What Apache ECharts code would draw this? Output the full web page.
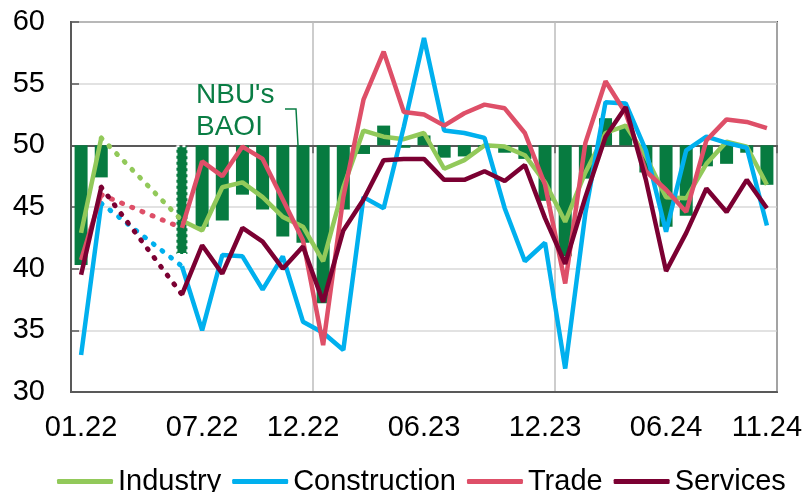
<!DOCTYPE html>
<html>
<head>
<meta charset="utf-8">
<script src="https://cdn.jsdelivr.net/npm/echarts@6/dist/echarts.min.js"></script>
<style>
  html, body { margin: 0; padding: 0; background: #fff; }
  #chart { width: 807px; height: 492px; }
</style>
</head>
<body>
<div id="chart"></div>
<script>
// months 01.22 .. 11.24 (no survey 03.22-05.22)
const months = [
  '01.22', '02.22', '03.22', '04.22', '05.22', '06.22', '07.22', '08.22', '09.22', '10.22', '11.22', '12.22',
  '01.23', '02.23', '03.23', '04.23', '05.23', '06.23', '07.23', '08.23', '09.23', '10.23', '11.23', '12.23',
  '01.24', '02.24', '03.24', '04.24', '05.24', '06.24', '07.24', '08.24', '09.24', '10.24', '11.24'
];
const shownLabels = ['01.22', '07.22', '12.22', '06.23', '12.23', '06.24', '11.24'];

// NBU's BAOI (bars, drawn from the 50 line)
const baoi = [
  40.3, 47.4, null, null, null, 41.1, 43.4, 43.9, 46.0, 44.8, 42.6, 42.1,
  37.2, 44.8, 49.3, 51.6, 49.8, 50.8, 49.0, 49.1, 49.8, 49.4, 48.9, 45.5,
  41.0, 47.3, 52.2, 51.4, 47.8, 43.4, 44.3, 48.3, 48.5, 49.4, 46.8
];
const industry = [
  42.9, 50.6, null, null, null, 43.9, 43.1, 46.6, 47.0, 45.8, 44.2, 43.4,
  40.6, 46.6, 51.2, 50.7, 50.5, 51.0, 48.1, 48.8, 50.0, 49.9, 49.2, 47.0,
  43.8, 47.8, 51.0, 51.6, 49.1, 45.8, 45.7, 48.5, 50.3, 49.9, 46.8
];
const construction = [
  33.0, 45.3, null, null, null, 40.2, 35.0, 41.1, 41.0, 38.3, 41.0, 35.7,
  34.8, 33.4, 45.8, 44.9, 51.5, 58.7, 51.2, 51.0, 50.6, 44.9, 40.6, 42.1,
  31.9, 44.5, 53.5, 53.4, 49.6, 43.0, 49.6, 50.7, 50.2, 49.8, 43.5
];
const trade = [
  40.7, 46.0, null, null, null, 43.3, 48.7, 47.5, 49.9, 48.9, 45.6, 42.3,
  33.8, 45.8, 53.7, 57.6, 52.7, 52.5, 51.6, 52.6, 53.3, 53.0, 51.0, 46.8,
  38.8, 50.2, 55.2, 52.6, 47.9, 46.4, 44.6, 50.4, 52.1, 51.9, 51.4
];
const services = [
  39.5, 46.6, null, null, null, 37.9, 41.9, 39.6, 43.3, 42.2, 40.0, 41.8,
  37.3, 43.1, 45.6, 48.8, 48.9, 48.9, 47.2, 47.2, 47.9, 47.1, 48.4, 44.1,
  40.4, 45.8, 50.7, 53.1, 47.2, 39.8, 42.9, 46.5, 44.6, 47.2, 44.9
];

const yearBreaks = [12, 24];
const dottedMonth = 5; // 06.22 shown with dotted bar

const lineDefs = [
  { name: 'Industry', data: industry, color: '#92C95A' },
  { name: 'Construction', data: construction, color: '#00B0EE' },
  { name: 'Trade', data: trade, color: '#DE4F68' },
  { name: 'Services', data: services, color: '#7B0032' }
];

const green = '#077B40';
const font = 'Liberation Sans, Arial, sans-serif';

const chart = echarts.init(document.getElementById('chart'), null, { renderer: 'canvas' });

const barData = baoi.map((v, i) => {
  if (v == null) return null;
  if (i === dottedMonth) {
    return {
      value: v - 50,
      itemStyle: { color: green, borderColor: '#fff', borderWidth: 2, borderType: [3, 3] }
    };
  }
  return v - 50;
});

const series = [{
  name: "NBU's BAOI",
  type: 'bar',
  xAxisIndex: 0,
  yAxisIndex: 1,
  barWidth: 13,
  itemStyle: { color: green },
  data: barData,
  z: 1
}];

// dotted bridges over the gap
lineDefs.forEach(d => {
  series.push({
    name: d.name + ' gap',
    type: 'line',
    symbol: 'none',
    connectNulls: true,
    data: d.data.map((v, i) => (i === 1 || i === dottedMonth ? v : null)),
    lineStyle: { color: d.color, width: 5, type: [1, 10], cap: 'round' },
    silent: true,
    z: 2
  });
});

lineDefs.forEach(d => {
  series.push({
    name: d.name,
    type: 'line',
    symbol: 'none',
    data: d.data,
    color: d.color,
    lineStyle: { color: d.color, width: 4.5 },
    z: 3
  });
});

chart.setOption({
  animation: false,
  grid: {
    left: 71, right: 30, top: 22, bottom: 100,
    show: true, borderColor: '#595959', borderWidth: 2
  },
  legend: {
    data: lineDefs.map(d => d.name),
    left: 57,
    top: 467,
    padding: 0,
    itemGap: 11,
    icon: 'roundRect',
    itemWidth: 56,
    itemHeight: 5,
    textStyle: { fontSize: 29, color: '#000', fontFamily: font }
  },
  xAxis: [{
    type: 'category',
    data: months,
    position: 'bottom',
    axisLine: { onZero: false, lineStyle: { color: '#595959', width: 2 } },
    axisTick: { show: false },
    axisLabel: {
      interval: 0,
      formatter: v => (shownLabels.includes(v) ? v : ''),
      fontSize: 29,
      color: '#000',
      fontFamily: font,
      margin: 21
    },
    splitLine: {
      show: true,
      interval: i => yearBreaks.includes(i),
      lineStyle: { color: '#BDBDBD', width: 1.5 }
    }
  }, {
    type: 'category',
    data: months,
    axisLine: { onZero: true, onZeroAxisIndex: 1, lineStyle: { color: '#595959', width: 2 } },
    axisTick: {
      show: true,
      inside: true,
      length: 8,
      interval: i => yearBreaks.includes(i),
      lineStyle: { color: '#595959', width: 1.5 }
    },
    axisLabel: { show: false },
    splitLine: { show: false }
  }],
  yAxis: [{
    type: 'value',
    min: 30, max: 60, interval: 5,
    axisLine: { show: true, lineStyle: { color: '#595959', width: 2 } },
    axisTick: { show: true, inside: true, length: 8, lineStyle: { color: '#595959', width: 1.5 } },
    axisLabel: { fontSize: 29, color: '#000', fontFamily: font, margin: 26 },
    splitLine: { lineStyle: { color: '#D9D9D9', width: 1.5 } }
  }, {
    type: 'value',
    min: -20, max: 10,
    show: false,
    splitLine: { show: false }
  }],
  graphic: [{
    type: 'text',
    left: 196,
    top: 79,
    style: {
      text: "NBU's\nBAOI",
      font: '28px ' + font,
      fill: '#0A7D44',
      align: 'center',
      lineHeight: 32,
      width: 80
    },
    z: 10
  }, {
    type: 'polyline',
    shape: { points: [[285, 109], [296, 109], [298, 145]] },
    style: { stroke: '#0A7D44', lineWidth: 1.5, fill: null },
    z: 10
  }],
  series: series
});
</script>
</body>
</html>
